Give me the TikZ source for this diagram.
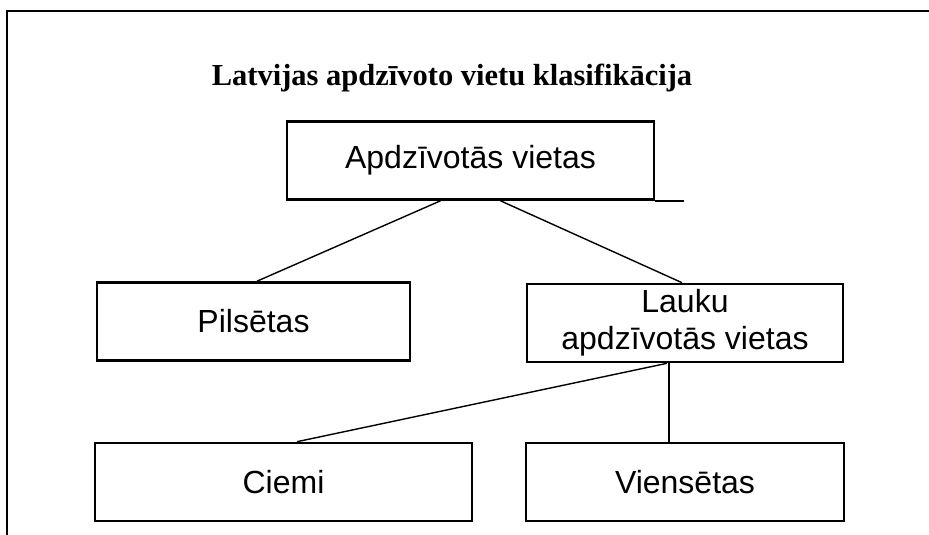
\documentclass[tikz,border=0pt]{standalone}
\usepackage{fontspec}
\setmainfont{Liberation Serif}
\newfontfamily\boxfont{Liberation Sans}
\usepackage{tikz}
\usetikzlibrary{positioning}
\tikzset{
  % Classification box: fixed size, text in the middle
  klase/.style={
    rectangle, draw=black, line width=2.6pt,
    minimum width=#1, minimum height=78pt,
    inner sep=0pt, align=center,
    font=\boxfont\fontsize{32}{37}\selectfont
  },
  % Connector between boxes
  saite/.style={line width=1.4pt, color=black},
  % Page frame
  ramis/.style={line width=2.4pt, color=black},
  % Heading
  virsr/.style={font=\fontsize{30.5}{36}\selectfont\bfseries}
}
\begin{document}
\begin{tikzpicture}[x=1pt, y=-1pt]
  \useasboundingbox (0,0) rectangle (929,535);
  \coordinate (ramisA) at (7,545);
  \coordinate (ramisB) at (7,11);
  \coordinate (ramisC) at (940,11);
  \draw[ramis] (ramisA) -- (ramisB) -- (ramisC);

  \node[virsr] (virsraksts) at (452,78) {Latvijas apdzīvoto vietu klasifikācija};

  \node[klase=367pt] (apdz)   at (470.5,160.5) {Apdzīvotās vietas};
  \node[klase=313pt] (pils)   at (253.5,321.5) {Pilsētas};
  \node[klase=316pt] (lauku)  at (685,323)     {Lauku\\apdzīvotās vietas};
  \node[klase=377pt] (ciemi)  at (283.5,482)   {Ciemi};
  \node[klase=318pt] (viens)  at (685,482)     {Viensētas};

  % line running on past the top box
  \draw[line width=2.6pt] (apdz.south east) -- ([xshift=29pt]apdz.south east);

  \draw[saite] ([xshift=-30pt]apdz.south) -- ([xshift=3.5pt]pils.north);
  \draw[saite] ([xshift=30pt]apdz.south)  -- ([xshift=-3pt]lauku.north);
  \draw[saite] ([xshift=-18pt]lauku.south) -- ([xshift=13.5pt]ciemi.north);
  \draw[saite] ([xshift=-16pt]lauku.south) -- ([xshift=-16pt]viens.north);
\end{tikzpicture}
\end{document}
